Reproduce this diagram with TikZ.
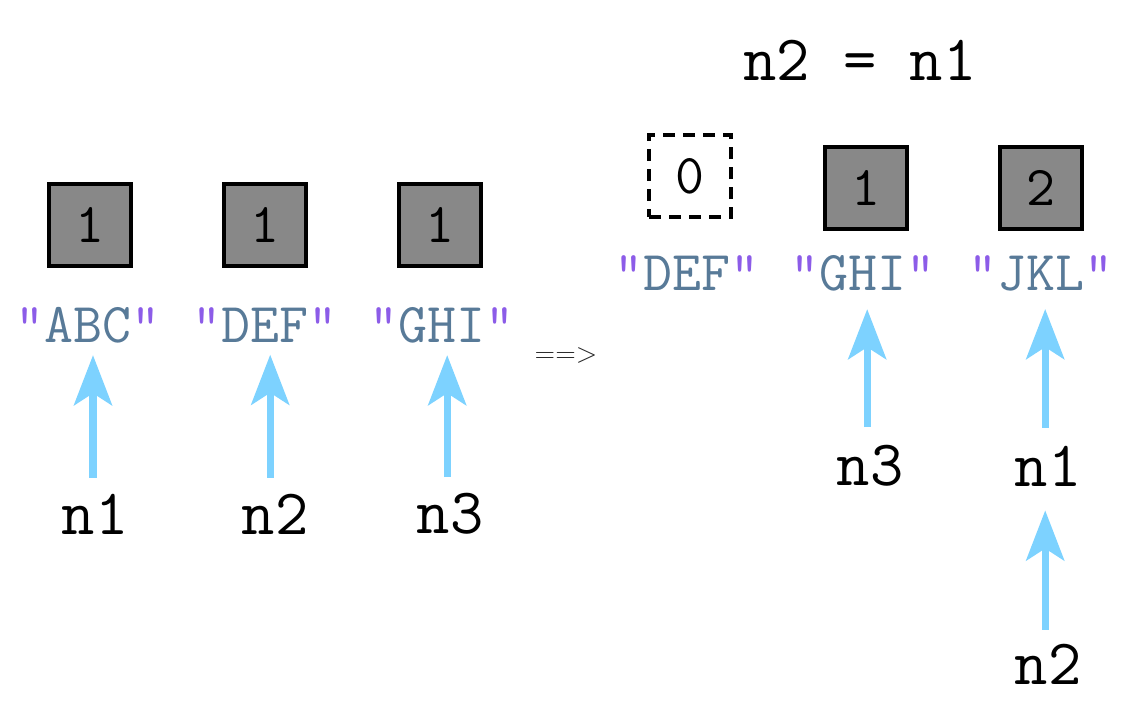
\documentclass[tikz,border=0pt]{standalone}
\usepackage{tikz}
\usetikzlibrary{arrows.meta}
\definecolor{boxgray}{RGB}{136,136,136}
\definecolor{quotec}{RGB}{140,92,232}
\definecolor{strc}{RGB}{88,122,152}
\definecolor{ptrc}{RGB}{125,210,255}
\tikzstyle{refbox}  = [draw, line width=2.4pt, fill=boxgray, minimum size=2.05cm, inner sep=0pt, font=\fontsize{40}{46}\selectfont\ttfamily]
\tikzstyle{deadbox} = [refbox, fill=none, line width=2.6pt, dash pattern=on 0.3cm off 0.2cm]
\tikzstyle{strlab}  = [inner sep=0pt, text=strc, font=\fontsize{40}{46}\selectfont\ttfamily]
\tikzstyle{varlab}  = [inner sep=0pt, font=\fontsize{46}{52}\selectfont\ttfamily]
\tikzstyle{ptr}     = [line width=5pt, ptrc, -{Stealth[length=1.25cm, width=0.95cm, inset=0.3cm]}]
\newcommand{\strq}[1]{{\color{quotec}"}#1{\color{quotec}"}}

\begin{document}
\begin{tikzpicture}[x=0.025cm, y=-0.025cm]
        \useasboundingbox (0,0) rectangle (1126,713);

        % before
        \node[refbox] (c1) at (90,225) {1};
        \node[refbox] (c2) at (265,225) {1};
        \node[refbox] (c3) at (440,225) {1};

        \node[strlab] (s1) at (88,325) {\strq{ABC}};
        \node[strlab] (s2) at (265,325) {\strq{DEF}};
        \node[strlab] (s3) at (442,325) {\strq{GHI}};

        \node[varlab] (n1) at (95,514) {n1};
        \node[varlab] (n2) at (275,514) {n2};
        \node[varlab] (n3) at (450,514) {n3};

        \draw[ptr, shorten <=0.4cm, shorten >=0.3cm] ([xshift=-0.05cm]n1.north) -- ([xshift=-0.05cm]n1.north |- s1.south);
        \draw[ptr, shorten <=0.4cm, shorten >=0.3cm] ([xshift=-0.12cm]n2.north) -- ([xshift=-0.12cm]n2.north |- s2.south);
        \draw[ptr, shorten <=0.4cm, shorten >=0.3cm] ([xshift=-0.07cm]n3.north) -- ([xshift=-0.07cm]n3.north |- s3.south);

        \node[font=\fontsize{20}{24}\selectfont\sffamily, text=black!85] (step) at (566,355) {==>};

        % after
        \node[varlab] (title) at (860,60) {n2 = n1};

        \node[deadbox] (d0) at (690,176) {0};
        \node[refbox] (r1) at (866,188) {1};
        \node[refbox] (r2) at (1041,188) {2};

        \node[strlab] (t1) at (687,273) {\strq{DEF}};
        \node[strlab] (t2) at (863,273) {\strq{GHI}};
        \node[strlab] (t3) at (1041,273) {\strq{JKL}};

        \node[varlab] (m3) at (870,466) {n3};
        \node[varlab] (m1) at (1048,466) {n1};
        \node[varlab] (m2) at (1048,664) {n2};

        \draw[ptr, shorten <=0.45cm, shorten >=0.45cm] ([xshift=-0.07cm]m3.north) -- ([xshift=-0.07cm]m3.north |- t2.south);
        \draw[ptr, shorten <=0.45cm, shorten >=0.45cm] ([xshift=-0.07cm]m1.north) -- ([xshift=-0.07cm]m1.north |- t3.south);
        \draw[ptr, shorten <=0.35cm, shorten >=0.6cm] ([xshift=-0.07cm]m2.north) -- ([xshift=-0.07cm]m2.north |- m1.south);
\end{tikzpicture}
\end{document}
